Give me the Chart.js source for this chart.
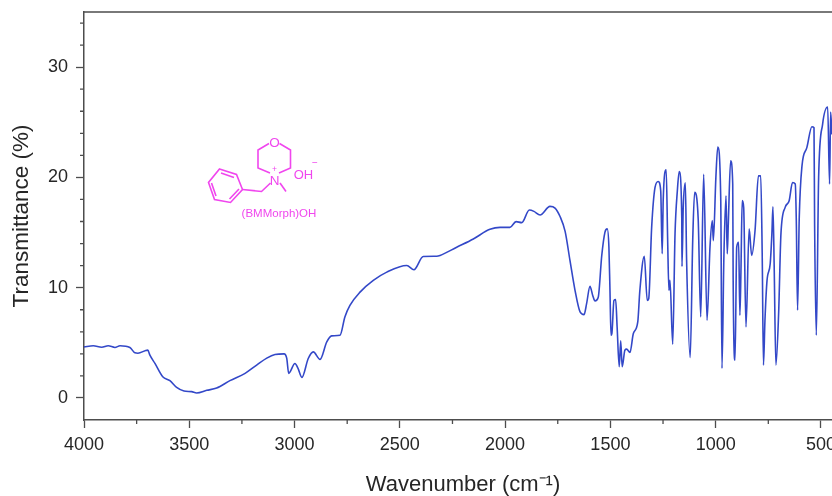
<!DOCTYPE html>
<html lang="en">
<head>
    <meta charset="UTF-8">
    <title>FTIR spectrum of (BMMorph)OH</title>
    <script src="https://cdn.jsdelivr.net/npm/chart.js"></script>
    <style>
        html, body { margin: 0; padding: 0; background: #fff; overflow: hidden; }
        #wrap { position: relative; width: 832px; height: 496px; overflow: hidden; filter: blur(0.35px); }
        #spectrum { position: absolute; left: 0; top: 0; }
        #molecule { position: absolute; left: 0; top: 0; }
        #molecule text { font-family: "Liberation Sans", Arial, sans-serif; fill: #f046ee; text-anchor: middle; }
    </style>
</head>
<body>
    <div id="wrap">
        <canvas id="spectrum" width="860" height="496"></canvas>
        <!-- structure inset -->
        <svg id="molecule" width="832" height="496">
            <g fill="none" stroke="#f046ee" stroke-width="1.6">
                <polygon points="219.5,169 236.5,174.5 242.5,189.5 230.5,202.5 214.5,199.5 208.5,182.5"/>
                <path d="M221,173 L234,177.5 M239,189 L229.5,199 M216,196 L211.5,183"/>
                <path d="M242.5,189.5 L261.5,191.5 L270.5,183"/>
                <path d="M280,183 L286,191.5"/>
                <path d="M270,173 L258,168 L258,150 L269,143.5"/>
                <path d="M279.5,143.5 L290.5,150 L290.5,168 L279,173"/>
            </g>
            <text x="274.5" y="146.5" font-size="13.5">O</text>
            <text x="274.5" y="184.5" font-size="13.5">N</text>
            <text x="274.5" y="172" font-size="8.5">+</text>
            <text x="303.5" y="178.5" font-size="13">OH</text>
            <text x="315" y="166" font-size="10">−</text>
            <text x="279" y="217" font-size="11.5">(BMMorph)OH</text>
        </svg>
    </div>

    <script>
        // values
        const wavenumbers = [
            4000, 3956, 3916, 3885, 3853, 3829, 3782, 3758, 3744, 3697, 3687, 3663, 3626, 3592, 3560, 3525,
            3489, 3465, 3417, 3370, 3307, 3235, 3180, 3132, 3093, 3050, 3037, 3028, 2998, 2984, 2965, 2935,
            2911, 2879, 2847, 2824, 2784, 2761, 2737, 2689, 2626, 2562, 2467, 2433, 2389, 2325, 2309, 2230,
            2151, 2072, 2024, 1977, 1948, 1921, 1885, 1863, 1834, 1787, 1763, 1739, 1715, 1692, 1668, 1644,
            1625, 1613, 1597, 1584, 1573, 1558, 1541, 1526, 1515, 1507, 1502, 1497, 1493, 1483, 1475, 1468,
            1458, 1451, 1444, 1431, 1423, 1407, 1391, 1370, 1360, 1339, 1325, 1318, 1304, 1288, 1273, 1261,
            1254, 1249, 1235, 1228, 1222, 1217, 1204, 1193, 1182, 1173, 1161, 1160, 1154, 1144, 1138, 1121,
            1109, 1100, 1083, 1071, 1057, 1041, 1027, 1016, 1011, 999, 990, 976, 970, 961, 951, 945,
            940, 929, 919, 917, 908, 900, 891, 885, 880, 874, 867, 856, 841, 829, 813, 797,
            786, 779, 773, 766, 756, 741, 733, 728, 722, 714, 701, 690, 670, 651, 635, 622,
            617, 611, 603, 590, 567, 543, 533, 530, 522, 511, 492, 468, 459, 454, 448
        ];
        const transmittance = [
            4.63, 4.73, 4.6, 4.73, 4.58, 4.73, 4.58, 4.09, 4.06, 4.34, 3.88, 3.13, 1.93, 1.57, 0.96, 0.63,
            0.57, 0.45, 0.69, 0.9, 1.57, 2.23, 2.98, 3.61, 3.94, 4.0, 3.59, 2.23, 3.13, 2.7, 1.87, 3.58,
            4.18, 3.5, 5.09, 5.63, 5.69, 7.35, 8.4, 9.6, 10.66, 11.41, 12.01, 11.63, 12.83, 12.85, 12.92, 13.67,
            14.42, 15.29, 15.47, 15.47, 15.99, 15.9, 17.04, 16.92, 16.59, 17.37, 17.22, 16.45, 15.1, 12.47, 9.76, 7.8,
            7.56, 8.55, 10.12, 9.3, 8.79, 9.1, 12.92, 15.02, 15.33, 13.67, 9.76, 5.69, 5.84, 8.85, 8.92, 6.44,
            2.83, 5.18, 2.83, 4.34, 4.43, 4.13, 5.84, 6.89, 9.76, 12.85, 8.85, 9.0, 15.47, 19.09, 19.63, 18.79,
            13.07, 18.04, 20.69, 14.27, 9.76, 10.66, 4.88, 14.88, 18.79, 20.53, 16.38, 11.92, 17.28, 19.5, 12.47, 3.67,
            14.27, 18.64, 16.23, 7.35, 20.29, 7.05, 13.67, 16.08, 14.27, 20.0, 22.76, 18.18, 2.68, 12.76, 18.34, 13.07,
            15.8, 21.5, 19.4, 10.96, 3.43, 13.67, 14.12, 7.5, 11.41, 17.89, 17.28, 6.44, 15.33, 12.92, 15.18, 20.14,
            20.14, 13.1, 2.98, 7.0, 10.66, 12.17, 14.9, 17.34, 11.86, 2.98, 7.65, 14.88, 17.28, 17.89, 19.54, 19.4,
            16.08, 7.95, 16.38, 21.05, 22.7, 24.6, 24.5, 15.63, 5.69, 20.0, 24.84, 26.38, 19.4, 25.93, 23.9
        ];

        // axis ticks
        const xMajorTicks = [4000, 3500, 3000, 2500, 2000, 1500, 1000, 500];
        const xMinorTicks = [3750, 3250, 2750, 2250, 1750, 1250, 750];
        const yMajorTicks = [0, 10, 20, 30];
        const yMinorTicks = [2, 4, 6, 8, 12, 14, 16, 18, 22, 24, 26, 28, 32, 34];

        const axisColor = '#4d4d4d';
        const textColor = '#262626';
        const fontFamily = '"Liberation Sans", Arial, sans-serif';

        // short ticks and the top frame line, chart.js has no minor ticks of its own
        const frameAndMinorTicks = {
            id: 'frameAndMinorTicks',
            afterDraw(chart) {
                const { ctx, chartArea, scales } = chart;
                ctx.save();
                ctx.strokeStyle = axisColor;
                ctx.lineWidth = 1.3;
                ctx.beginPath();
                xMinorTicks.forEach(v => {
                    const px = scales.x.getPixelForValue(v);
                    ctx.moveTo(px, chartArea.bottom);
                    ctx.lineTo(px, chartArea.bottom + 4);
                });
                yMinorTicks.forEach(v => {
                    const py = scales.y.getPixelForValue(v);
                    ctx.moveTo(chartArea.left, py);
                    ctx.lineTo(chartArea.left - 4, py);
                });
                ctx.moveTo(chartArea.left, chartArea.top);
                ctx.lineTo(chartArea.right, chartArea.top);
                ctx.stroke();
                ctx.restore();
            }
        };

        new Chart(document.getElementById('spectrum'), {
            type: 'line',
            data: {
                labels: wavenumbers,
                datasets: [{
                    data: wavenumbers.map((w, i) => ({ x: w, y: transmittance[i] })),
                    borderColor: '#3348c8',
                    borderWidth: 1.6,
                    pointRadius: 0,
                    cubicInterpolationMode: 'monotone'
                }]
            },
            options: {
                responsive: false,
                animation: false,
                layout: { padding: { top: 12, right: 18, left: 0, bottom: 0 } },
                plugins: { legend: { display: false }, tooltip: { enabled: false } },
                scales: {
                    x: {
                        type: 'linear',
                        reverse: true,
                        min: 400,
                        max: 4000,
                        afterBuildTicks: scale => { scale.ticks = xMajorTicks.map(v => ({ value: v })); },
                        afterFit: scale => {
                            scale.height = 76;
                            scale.paddingLeft = 0;
                            scale.paddingRight = 0;
                        },
                        grid: { drawOnChartArea: false, tickLength: 8, tickColor: axisColor, tickWidth: 1.3 },
                        border: { color: axisColor, width: 1.5 },
                        ticks: {
                            autoSkip: false,
                            maxRotation: 0,
                            padding: 6,
                            color: textColor,
                            font: { family: fontFamily, size: 18 },
                            callback: value => String(value)
                        },
                        title: {
                            display: true,
                            text: 'Wavenumber (cm⁻¹)',
                            color: textColor,
                            padding: { top: 0, bottom: 0 },
                            font: { family: fontFamily, size: 22, lineHeight: 1 }
                        }
                    },
                    y: {
                        min: -2,
                        max: 35,
                        afterBuildTicks: scale => { scale.ticks = yMajorTicks.map(v => ({ value: v })); },
                        afterFit: scale => {
                            scale.width = 84;
                            scale.paddingTop = 0;
                            scale.paddingBottom = 0;
                        },
                        grid: { drawOnChartArea: false, tickLength: 8, tickColor: axisColor, tickWidth: 1.3 },
                        border: { color: axisColor, width: 1.5 },
                        ticks: {
                            padding: 8,
                            color: textColor,
                            font: { family: fontFamily, size: 18 }
                        },
                        title: {
                            display: true,
                            text: 'Transmittance (%)',
                            color: textColor,
                            padding: { top: 11, bottom: 0 },
                            font: { family: fontFamily, size: 22.5, lineHeight: 1 }
                        }
                    }
                }
            },
            plugins: [frameAndMinorTicks]
        });
    </script>
</body>
</html>
